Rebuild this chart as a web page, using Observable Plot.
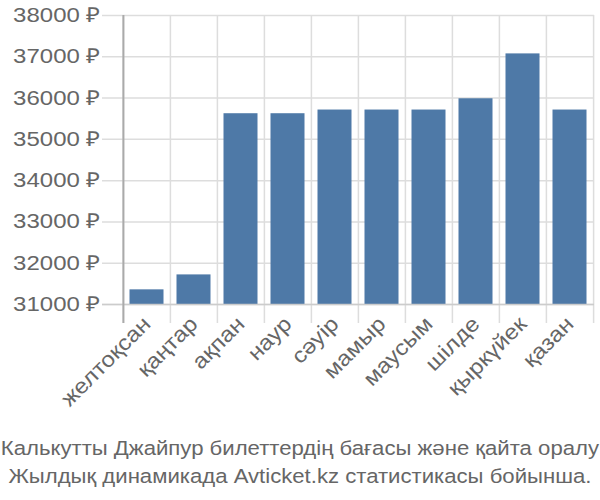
<!DOCTYPE html>
<html>
<head>
<meta charset="utf-8">
<script src="https://cdn.jsdelivr.net/npm/d3@7"></script>
<script src="https://cdn.jsdelivr.net/npm/@observablehq/plot@0.6"></script>
<style>
  body { margin: 0; background: #fff; font-family: "Liberation Sans", Arial, sans-serif; }
  #chart { width: 600px; height: 434px; }
  .caption { width: 600px; text-align: center; color: #666; font-size: 20.5px; line-height: 28px; white-space: nowrap; }
  .caption span { display: inline-block; transform: scaleX(1.08); transform-origin: center; }
</style>
</head>
<body>
<div id="chart"></div>
<div class="caption"><span>Калькутты Джайпур билеттердің бағасы және қайта оралу</span><br><span>Жылдық динамикада Avticket.kz статистикасы бойынша.</span></div>
<script>
const months = ["желтоқсан", "қаңтар", "ақпан", "наур", "сәуір", "мамыр", "маусым", "шілде", "қыркүйек", "қазан"];
const prices = [31355, 31717, 35621, 35621, 35710, 35710, 35710, 35983, 37070, 35710];
const yTicks = [31000, 32000, 33000, 34000, 35000, 36000, 37000, 38000];
const baseline = 31000;
const currency = "₽";

const data = months.map((m, i) => ({month: m, price: prices[i]}));

const W = 600, H = 432, ML = 122, MR = 6, MT = 15, MB = 128;
const step = (W - ML - MR) / months.length;

const chart = Plot.plot({
  width: W,
  height: H,
  marginLeft: ML,
  marginRight: MR,
  marginTop: MT,
  marginBottom: MB,
  style: {fontFamily: "'Liberation Sans', Arial, sans-serif", fontSize: "20px", color: "#666", background: "#fff"},
  x: {domain: months, padding: 0, label: null},
  y: {domain: [yTicks[0], yTicks[yTicks.length - 1]], label: null},
  marks: [
    Plot.ruleY(yTicks, {stroke: "#ddd", strokeWidth: 1.5, insetLeft: -20}),
    Plot.ruleX(months, {stroke: "#ddd", strokeWidth: 1.5, dx: -step / 2, insetBottom: -19}),
    Plot.ruleX([months[months.length - 1]], {stroke: "#ddd", strokeWidth: 1.5, dx: step / 2, insetBottom: -19}),
    Plot.barY(data, {x: "month", y1: baseline, y2: "price", fill: "#4e79a7", insetLeft: 6.5, insetRight: 6.5}),
    Plot.ruleY([baseline], {stroke: "#ccc", strokeWidth: 1.5, insetLeft: -20}),
    Plot.ruleX([months[0]], {stroke: "#aaa", strokeWidth: 2, dx: -step / 2, insetBottom: -19}),
    Plot.axisY(yTicks, {tickSize: 0, tickPadding: 22, tickFormat: d => `${d} ${currency}`, fill: "#666", fontSize: 20.5, label: null}),
    Plot.axisX({tickSize: 0, tickPadding: 16, tickRotate: -45, fill: "#666", fontSize: 21.5, textAnchor: "end", label: null})
  ]
});
document.getElementById("chart").appendChild(chart);

// the reference's lettering is a little wider than Liberation Sans: stretch glyphs horizontally
function stretch(selector, k) {
  chart.querySelectorAll(selector).forEach(t => {
    const len = t.getComputedTextLength();
    t.setAttribute("textLength", (len * k).toFixed(1));
    t.setAttribute("lengthAdjust", "spacingAndGlyphs");
  });
}
stretch('[aria-label="y-axis tick label"] text', 1.17);
stretch('[aria-label="x-axis tick label"] text', 1.12);
</script>
</body>
</html>
